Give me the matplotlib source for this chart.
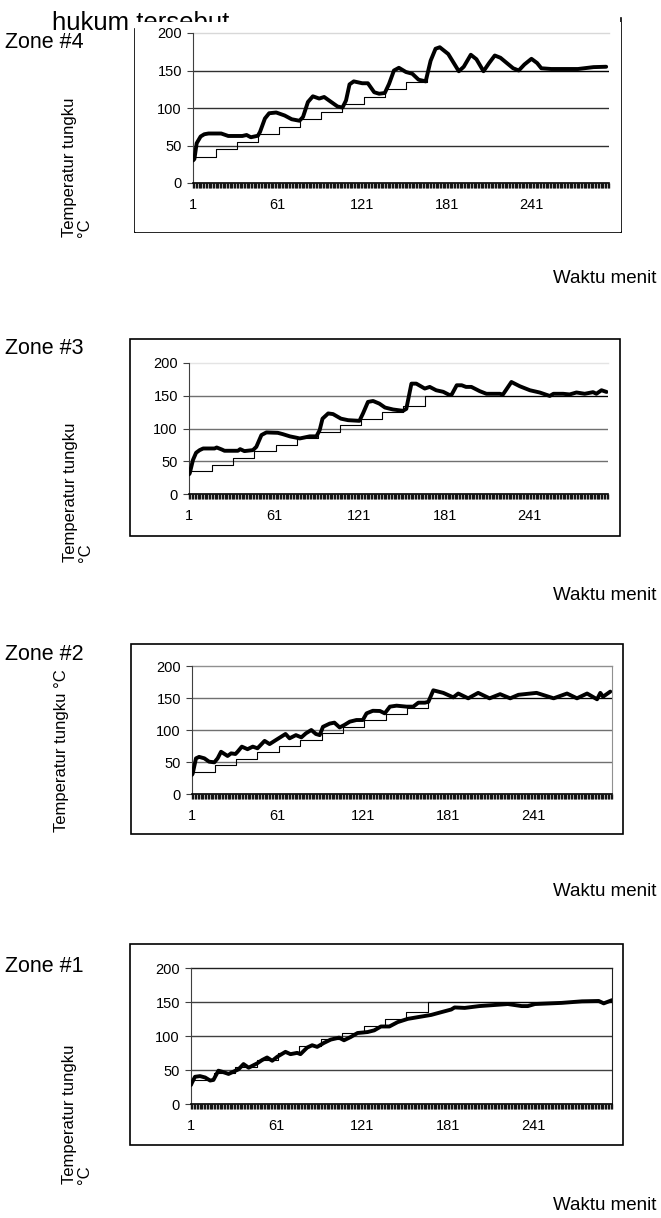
import matplotlib
matplotlib.use('Agg')
import matplotlib.pyplot as plt
from matplotlib.patches import Rectangle
from matplotlib.lines import Line2D

plt.rcParams['font.family'] = ['Liberation Sans', 'DejaVu Sans']

# setpoint (thin step line), same for every zone
set_t = [1, 17, 32, 47, 62, 77, 92, 107, 122, 137, 152, 167, 296]
set_v = [35, 45, 55, 65, 75, 85, 95, 105, 115, 125, 135, 150, 150]

# measured furnace temperature per zone (minute, deg C)
zone4_t = [1, 2, 3.6, 6.4, 9, 12, 21, 26, 36, 39, 42, 47, 48.5, 52, 55, 60, 66, 71, 76.5, 79,
           82.5, 86, 90.5, 94, 99, 103.5, 107, 109.5, 112, 115, 121, 125, 129.5, 133, 137, 140,
           143.5, 147, 152, 156.5, 161, 166, 169.5, 173, 176, 182, 189.5, 193, 198, 202, 207,
           211, 215, 219, 223.5, 228, 232, 236, 241, 245, 248, 255, 274, 285, 294]
zone4_v = [30, 32, 53, 62, 65, 66, 66, 62.7, 62.7, 64, 61, 63, 68, 86, 93, 94, 90, 85, 83, 88,
           108, 115.6, 112.6, 114.7, 108, 102, 100.6, 110, 131.5, 135.5, 133, 133, 121, 119, 120, 132,
           150, 153.6, 148, 145.7, 137.7, 135.5, 163, 179, 181, 172, 149, 155, 171, 165, 149,
           160, 170, 167, 160, 153, 150, 158, 165.6, 160, 153, 152, 152, 154.5, 155]

zone3_t = [1, 1.5, 3.8, 6, 8.5, 11, 19, 20.5, 24, 26, 35.5, 37, 40, 46, 48.4, 52, 55.5, 63.5,
           67, 72, 76.5, 79, 86, 90.7, 93, 95, 99, 102.4, 108, 113, 121, 123.5, 127, 130.6, 135,
           139, 144.7, 151.7, 154, 157.6, 161, 167, 170.5, 175, 180, 184.5, 186, 189.5, 193, 196,
           199.8, 205.7, 210.4, 219.8, 222, 228, 233.9, 241, 248, 255, 257.6, 264.4, 269, 273.8,
           279.6, 285.5, 287.8, 291.4, 295]
zone3_v = [30, 31.5, 52, 63, 67, 69.5, 69.5, 71, 68, 66, 66, 68.5, 65.5, 67, 72, 90, 94, 93.4,
           91.4, 88, 86, 84.8, 88, 88, 97.5, 115, 123, 122, 115, 112.7, 111.7, 123, 140.6, 142, 138,
           132, 129, 127, 130, 168.5, 168.5, 161, 163.5, 158.4, 156, 151, 152, 166, 166, 163.5,
           163.5, 157, 153, 153, 151.8, 171, 164.5, 158.4, 154.9, 149.7, 153, 153, 152, 155,
           153, 155.5, 153, 158.4, 155.8]

zone2_t = [1, 1.5, 3.8, 6, 9.7, 13, 16.7, 19, 21.4, 26, 28.5, 31.5, 33, 36, 40, 43.7, 47, 52,
           55.5, 60, 66.7, 69.5, 74, 77.8, 81, 84.8, 88, 90.7, 93, 97.7, 101, 104.7, 108, 111.8,
           116.5, 121, 123.6, 128, 133, 136.4, 140, 144.7, 151.7, 156.4, 160, 164.6, 167, 170.5,
           177.5, 184.5, 188, 195, 202, 210, 217.4, 224.5, 230.3, 243, 255, 264.4, 271.4, 278.5,
           285.5, 287.8, 289.7, 294.8]
zone2_v = [30, 32, 55.7, 58, 55.7, 50.5, 49.5, 55.7, 66, 59.4, 63.5, 62.5, 66, 74, 70, 74, 71.4, 83,
           78, 84.4, 93.8, 87, 92, 88.5, 94.8, 100, 93.8, 92, 105, 110, 111.5, 104, 107.8, 113,
           115.6, 115.6, 126, 130, 129.7, 126, 136.5, 138, 136.5, 136.5, 142.7, 142.7, 144, 162,
           158, 151, 157, 149.5, 158, 149.5, 156, 149.5, 155, 158, 149.5, 157, 149.5, 157,
           148, 158, 152, 160]

zone1_t = [1, 1.5, 3.8, 7.3, 10.9, 14.4, 16.7, 20.2, 22.6, 27.3, 30.8, 34.3, 37.8, 41.4, 47.3,
           50.8, 54.3, 57.9, 61.4, 67.2, 70.7, 75.4, 77.7, 82.4, 85.9, 89.4, 94.1, 98.9, 104.7,
           108.2, 112.9, 117.7, 124.7, 129.4, 134.1, 140, 145.8, 152.9, 159.9, 169.3, 176.3,
           183.4, 185.7, 192.8, 203, 223, 232.7, 237, 242, 260.8, 275, 286.7, 290.2, 296]
zone1_v = [28, 30.6, 40, 41, 39, 34.5, 35.4, 49, 47.6, 44.2, 47.6, 51, 58.7, 53.4, 59.7,
           64.6, 68.4, 63.6, 69.4, 76.7, 73.3, 75.2, 73.3, 83, 86.4, 84, 89.8, 94.7, 97.6,
           93.7, 98.5, 104.4, 105.8, 108.3, 114, 114, 120.4, 125.2, 127.7, 131, 135,
           139, 142, 141.3, 144, 147, 144, 144, 147, 148.7, 151, 151.5, 148, 152.7]

x_labels = [1, 61, 121, 181, 241]

W, H = 661, 1218
fig = plt.figure(figsize=(W / 100, H / 100), dpi=100)


def fx(px):
    return px / W


def fy(py):
    return 1 - py / H


# plot area (l, t, r, b), chart box (l, t, r, b), y-label, zone label y, waktu y
panels = [
    dict(name='Zone #4', t=zone4_t, v=zone4_v, plot=(193, 33, 609, 183), box=(135, 22, 621, 232),
         ylab='Temperatur tungku\n°C', ylab_xy=(62, 237), zone_y=42, waktu_y=278,
         top='#d8d8d8', frame=False, grid='#303030'),
    dict(name='Zone #3', t=zone3_t, v=zone3_v, plot=(189, 363, 608, 494), box=(130, 339, 620, 536),
         ylab='Temperatur tungku\n°C', ylab_xy=(63, 562), zone_y=348, waktu_y=595,
         top='#e4e4e4', frame=False, grid='#707070'),
    dict(name='Zone #2', t=zone2_t, v=zone2_v, plot=(192, 666, 612, 794), box=(131, 644, 623, 834),
         ylab='Temperatur tungku °C', ylab_xy=(54, 832), zone_y=655, waktu_y=892,
         top='#909090', frame=True, grid='#707070'),
    dict(name='Zone #1', t=zone1_t, v=zone1_v, plot=(191, 968, 612, 1104), box=(130, 944, 623, 1145),
         ylab='Temperatur tungku\n°C', ylab_xy=(62, 1184), zone_y=967, waktu_y=1206,
         top='#202020', frame=True, grid='#404040'),
]

# title fragment, partly hidden behind the first chart
fig.text(fx(52), fy(30), 'hukum tersebut', fontsize=18.5, ha='left', va='baseline', zorder=3)

for i, p in enumerate(panels):
    bl, bt, br, bb = p['box']
    if i == 0:
        fig.patches.append(Rectangle((fx(bl), fy(bb)), fx(br) - fx(bl), fy(bt) - fy(bb),
                                     transform=fig.transFigure, facecolor='white',
                                     edgecolor='none', zorder=4))
        for xs, ys in [([bl, bl], [29, bb]), ([br, br], [18, bb]), ([bl, br], [bb, bb])]:
            fig.lines.append(Line2D([fx(x) for x in xs], [fy(y) for y in ys],
                                    transform=fig.transFigure, color='black', lw=1.2, zorder=4))
    else:
        fig.patches.append(Rectangle((fx(bl), fy(bb)), fx(br) - fx(bl), fy(bt) - fy(bb),
                                     transform=fig.transFigure, facecolor='white',
                                     edgecolor='black', lw=1.2, zorder=4))

    pl, pt, pr, pb = p['plot']
    ax = fig.add_axes([fx(pl), fy(pb), fx(pr) - fx(pl), fy(pt) - fy(pb)])
    ax.set_zorder(5)

    for g in [50, 100, 150]:
        ax.axhline(g, color=p['grid'], lw=1.0, zorder=1)
    ax.axhline(200, color=p['top'], lw=1.0, zorder=1, clip_on=False)

    ax.step(set_t, set_v, where='post', color='black', lw=0.8, zorder=2)
    ax.plot(p['t'], p['v'], color='black', lw=2.8, solid_joinstyle='round',
            solid_capstyle='round', zorder=3)

    ax.set_xlim(1, 296)
    ax.set_ylim(0, 200)
    ax.set_yticks([0, 50, 100, 150, 200])
    ax.set_xticks(range(1, 297), minor=True)
    ax.set_xticks(x_labels)
    ax.tick_params(axis='x', which='both', length=3.5, width=1.0, color='#151515',
                   labelsize=10.5, pad=7)
    ax.tick_params(axis='y', length=4, width=0.8, color='#404040', labelsize=10.5, pad=4)

    ax.spines['left'].set_color('#404040')
    ax.spines['bottom'].set_color('black')
    ax.spines['bottom'].set_linewidth(1.2)
    ax.spines['top'].set_visible(False)
    if p['frame']:
        ax.spines['right'].set_color(p['top'])
    else:
        ax.spines['right'].set_visible(False)

    fig.text(fx(5), fy(p['zone_y']), p['name'], fontsize=15.5, ha='left', va='center', zorder=6)
    fig.text(fx(p['ylab_xy'][0]), fy(p['ylab_xy'][1]), p['ylab'], fontsize=12, rotation=90,
             ha='left', va='bottom', multialignment='left', linespacing=1.0, zorder=6)
    fig.text(fx(553), fy(p['waktu_y']), 'Waktu menit', fontsize=13.5, ha='left', va='center',
             zorder=6)

fig.savefig('out.png', dpi=100)
